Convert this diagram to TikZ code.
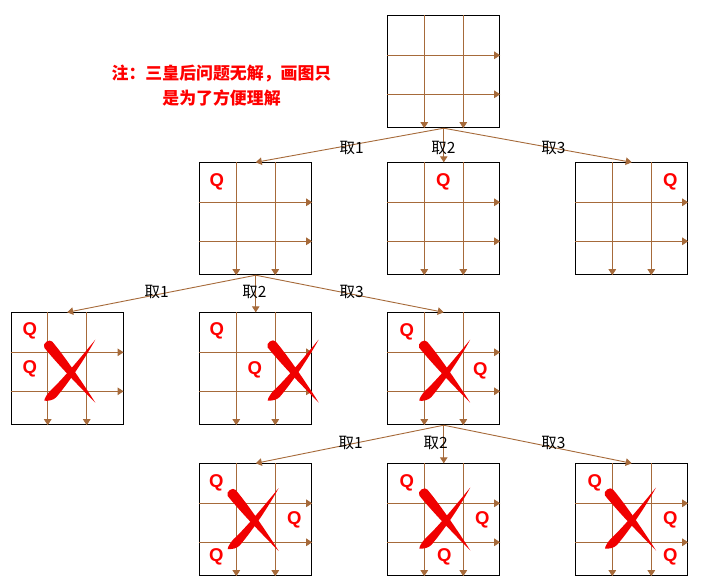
\documentclass[tikz,border=0pt]{standalone}
\usepackage{fontspec}
\setmainfont{Noto Sans CJK SC}
\newfontfamily\qfont{Liberation Sans}
\usetikzlibrary{arrows.meta,calc}
\definecolor{brn}{RGB}{166,106,58}
\definecolor{qred}{RGB}{255,0,0}
\definecolor{xred}{RGB}{240,0,0}
\tikzset{
  x=1pt, y=-1pt,
  board/.style={draw=black, line width=0.9pt, minimum width=112pt, minimum height=112pt, inner sep=0pt, anchor=north west},
  gridline/.style={draw=brn, line width=0.9pt, -{Triangle[length=6pt,width=7.5pt]}},
  conn/.style={draw=brn, line width=0.9pt, -{Triangle[length=6pt,width=7.5pt]}},
  lbl/.style={inner sep=0pt, font=\fontsize{15.5}{17}\selectfont, text=black},
  queen/.style={inner sep=0pt, text=qred, font=\qfont\bfseries\fontsize{18.5}{21}\selectfont},
  note/.style={inner sep=0pt, align=center, text=qred, font=\bfseries\fontsize{16.9}{25}\selectfont},
  xmark/.pic={
    \fill[xred] (24,31) .. controls (13,13.5) and (-7,-16) .. (-19,-30)
       .. controls (-21.5,-33.5) and (-29.5,-28.5) .. (-27,-24)
       .. controls (-15,-9) and (8,15) .. cycle;
    \fill[xred] (24,-32) .. controls (10,-15) and (-9,8) .. (-21,19)
       .. controls (-24,22) and (-27,27) .. (-27,29)
       .. controls (-23,29.5) and (-18,28.5) .. (-15,25.5)
       .. controls (-2,10) and (13,-12) .. cycle;
  }
}
\newcommand\gridof[1]{%
  \draw[gridline] ($(#1.north west)+(37,0)$) -- ($(#1.south west)+(37,0)$);
  \draw[gridline] ($(#1.north west)+(76,0)$) -- ($(#1.south west)+(76,0)$);
  \draw[gridline] ($(#1.north west)+(0,40)$) -- ($(#1.north east)+(0,40)$);
  \draw[gridline] ($(#1.north west)+(0,79)$) -- ($(#1.north east)+(0,79)$);
}
\begin{document}
\begin{tikzpicture}
\useasboundingbox[fill=white] (0,0) rectangle (714,587);

% note
\node[note] (note) at (221.5,85.5) {注：三皇后问题无解，画图只\\是为了方便理解};

% boards
\node[board] (t)   at (387.3,15.3) {};
\node[board] (b21) at (199.3,162.3) {};
\node[board] (b22) at (387.3,162.3) {};
\node[board] (b23) at (575.3,162.3) {};
\node[board] (b31) at (10.7,312.3) {};
\node[board] (b32) at (199.3,312.3) {};
\node[board] (b33) at (387.3,312.3) {};
\node[board] (b41) at (199.3,463.3) {};
\node[board] (b42) at (387.3,463.3) {};
\node[board] (b43) at (575.3,463.3) {};

\foreach \b in {t,b21,b22,b23,b31,b32,b33,b41,b42,b43}{\gridof{\b}}

% connectors
\draw[conn] (t.south) -- (b21.north);
\draw[conn] (t.south) -- (b22.north);
\draw[conn] (t.south) -- (b23.north);
\draw[conn] (b21.south) -- (b31.north);
\draw[conn] (b21.south) -- (b32.north);
\draw[conn] (b21.south) -- (b33.north);
\draw[conn] (b33.south) -- (b41.north);
\draw[conn] (b33.south) -- (b42.north);
\draw[conn] (b33.south) -- (b43.north);

% labels
\node[lbl] (l11) at (351.7,148.3) {取1};
\node[lbl] (l12) at (443.3,148.3) {取2};
\node[lbl] (l13) at (553.3,148.3) {取3};
\node[lbl] (l21) at (156.7,291.7) {取1};
\node[lbl] (l22) at (254.5,291.7) {取2};
\node[lbl] (l23) at (351.7,291.7) {取3};
\node[lbl] (l31) at (350.7,443.3) {取1};
\node[lbl] (l32) at (435.7,443.3) {取2};
\node[lbl] (l33) at (553.3,443.3) {取3};

% queens row 2
\node[queen] (q21a) at ($(b21.north west)+(17.5,20)$) {Q};
\node[queen] (q22a) at ($(b22.north west)+(56,20)$) {Q};
\node[queen] (q23a) at ($(b23.north west)+(95,20)$) {Q};
% row 3
\node[queen] (q31a) at ($(b31.north west)+(19,18.5)$) {Q};
\node[queen] (q31b) at ($(b31.north west)+(19,56.5)$) {Q};
\node[queen] (q32a) at ($(b32.north west)+(17.5,18.5)$) {Q};
\node[queen] (q32b) at ($(b32.north west)+(55.5,58)$) {Q};
\node[queen] (q33a) at ($(b33.north west)+(19.5,19.5)$) {Q};
\node[queen] (q33b) at ($(b33.north west)+(93,58.5)$) {Q};
% row 4
\node[queen] (q41a) at ($(b41.north west)+(17,19.5)$) {Q};
\node[queen] (q41b) at ($(b41.north west)+(95,56.5)$) {Q};
\node[queen] (q41c) at ($(b41.north west)+(17,93.5)$) {Q};
\node[queen] (q42a) at ($(b42.north west)+(19.5,19.5)$) {Q};
\node[queen] (q42b) at ($(b42.north west)+(95,56.5)$) {Q};
\node[queen] (q42c) at ($(b42.north west)+(57,93.5)$) {Q};
\node[queen] (q43a) at ($(b43.north west)+(19.5,19.5)$) {Q};
\node[queen] (q43b) at ($(b43.north west)+(95,56.5)$) {Q};
\node[queen] (q43c) at ($(b43.north west)+(95,93.5)$) {Q};

% crosses
\pic (x31) at (71.3,371.7) {xmark};
\pic (x32) at (294.7,371.5) {xmark};
\pic (x33) at (446.2,371.7) {xmark};
\pic (x41) at (254.7,520) {xmark};
\pic (x42) at (446.3,519.5) {xmark};
\pic (x43) at (632,519.5) {xmark};
\end{tikzpicture}
\end{document}
